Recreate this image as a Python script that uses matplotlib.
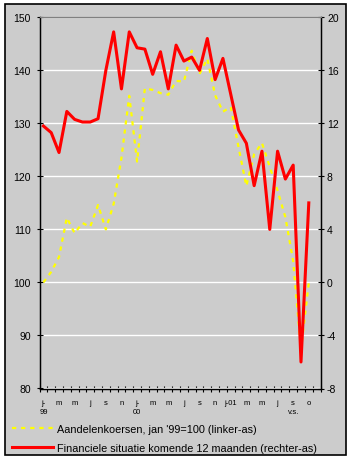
import matplotlib
matplotlib.use('Agg')
import matplotlib.pyplot as plt
import numpy as np
from matplotlib.patches import Rectangle

plt.rcParams['font.family'] = ['Liberation Sans', 'DejaVu Sans']
plt.rcParams['axes.unicode_minus'] = False

# maanden jan '99 t/m okt '01 (36 categorieen op de as)
n_cat = 36
maand_labels = ['j-\n99', 'm', 'm', 'j', 's', 'n',
                'j-\n00', 'm', 'm', 'j', 's', 'n',
                'j-01', 'm', 'm', 'j', 's\nv.s.', 'o']

# aandelenkoersen, jan '99 = 100 (linker-as)
aandelen = [100, 102, 104.8, 112.2, 109.3, 111.2, 110.5, 114.6, 110.0, 114.8,
            123.5, 135.2, 122.8, 136.6, 136.3, 135.7, 135.4, 138.0, 137.9, 143.7,
            139.3, 142.2, 135.3, 132.2, 133.1, 125.5, 118.2, 124.2, 126.3, 121.8,
            117.3, 112.3, 104.0, 87.3, 100.0]

# financiele situatie komende 12 maanden (rechter-as)
financieel = [11.8, 11.3, 9.8, 12.9, 12.3, 12.1, 12.1, 12.35, 16.0, 18.9,
              14.6, 18.9, 17.7, 17.6, 15.7, 17.4, 14.6, 17.9, 16.7, 17.0,
              16.0, 18.4, 15.3, 16.9, 14.2, 11.5, 10.5, 7.3, 9.9, 4.0,
              9.9, 7.8, 8.85, -6.0, 6.0]

grijs = '#cccccc'

fig = plt.figure(figsize=(3.52, 4.64), dpi=100)
fig.patches.append(Rectangle((5 / 352, 8 / 464), 341 / 352, 451 / 464,
                             transform=fig.transFigure, facecolor=grijs,
                             edgecolor='black', lw=1.2, zorder=-10))

ax = fig.add_axes([39.5 / 352, (464 - 389.5) / 464, 281 / 352, 371.2 / 464])
ax.set_facecolor(grijs)
x = np.arange(len(aandelen))
ax.plot(x, aandelen, color='#ffff00', lw=1.6, dashes=(1.9, 2.2),
        label="Aandelenkoersen, jan '99=100 (linker-as)")
ax.set_xlim(-0.5, n_cat - 0.5)
ax.set_ylim(80, 150)
ax.set_yticks(range(80, 151, 10))
ax.yaxis.grid(True, color='white', lw=1)
ax.set_axisbelow(True)

ax.set_xticks(range(0, len(maand_labels) * 2, 2))
ax.set_xticklabels(maand_labels, fontsize=5.5, linespacing=1.4)
ax.set_xticks(np.arange(-0.5, n_cat, 1), minor=True)
ax.tick_params(axis='x', which='major', length=0, pad=7.5)
ax.tick_params(axis='x', which='minor', direction='inout', length=4, width=0.8)
ax.tick_params(axis='y', direction='inout', length=4.3, width=0.8, pad=4,
               labelsize=7.5)

ax2 = ax.twinx()
ax2.plot(x, financieel, color='#ff0000', lw=2.2,
         label='Financiele situatie komende 12 maanden (rechter-as)')
ax2.set_ylim(-8, 20)
ax2.set_yticks(range(-8, 21, 4))
ax2.tick_params(axis='y', direction='inout', length=4.3, width=0.8, pad=2.5,
                labelsize=7.5)

for a in (ax, ax2):
    a.spines['top'].set_color('#808080')
    a.spines['top'].set_linewidth(0.8)
    for s in ('left', 'right', 'bottom'):
        a.spines[s].set_linewidth(0.9)
        a.spines[s].set_color('black')

h1, l1 = ax.get_legend_handles_labels()
h2, l2 = ax2.get_legend_handles_labels()
fig.legend(h1 + h2, l1 + l2, loc='upper left',
           bbox_to_anchor=(12 / 352, 1 - 425 / 464), frameon=False,
           fontsize=7.8, handlelength=3.8, handletextpad=0.35,
           labelspacing=0.85, borderpad=0, borderaxespad=0)

fig.savefig('out.png', dpi=100, facecolor='white')
